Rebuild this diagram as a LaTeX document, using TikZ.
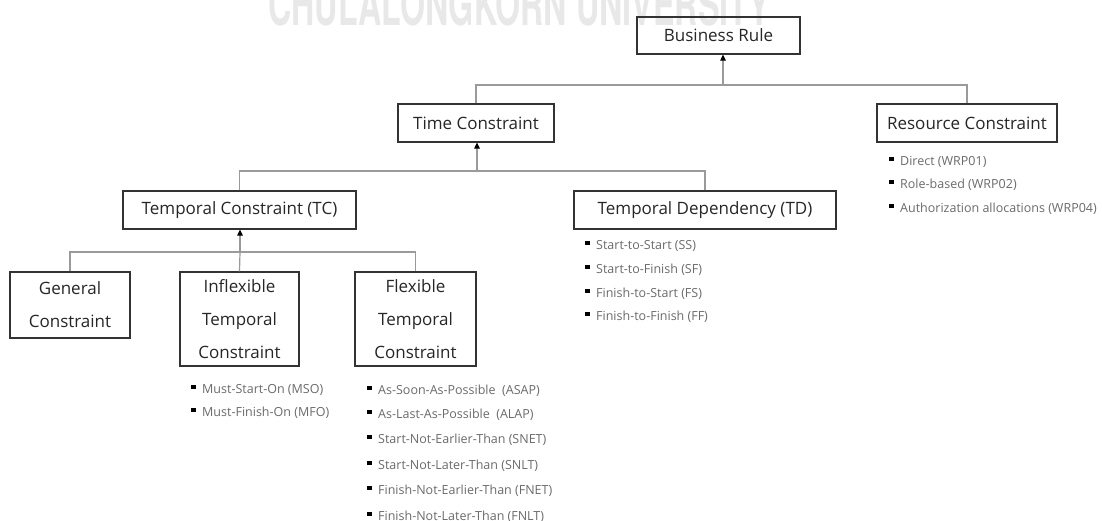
\documentclass[tikz,border=0pt]{standalone}
\usepackage{fontspec}
\setmainfont{Open Sans}
\newfontfamily\markfont{TeX Gyre Heros}
\usetikzlibrary{arrows.meta}

\definecolor{boxline}{HTML}{333333}
\definecolor{wire}{HTML}{9A9A9A}
\definecolor{itemtext}{HTML}{6A6A6A}
\definecolor{mark}{HTML}{E8E8E8}

\tikzset{
  x=1pt, y=-1pt,
  catbox/.style={draw=boxline, line width=1.2pt, inner sep=0pt,
    align=center, text=black!85, font=\fontsize{17}{33}\selectfont},
  wireline/.style={draw=wire, line width=1.2pt},
  uparrow/.style={wireline, -{Triangle[width=5.5pt,length=6pt,color=black,fill=black]}},
  item/.style={anchor=west, inner sep=0pt, text=itemtext, font=\fontsize{12.5}{14}\selectfont},
  dot/.style={fill=black, inner sep=0pt, minimum size=4.5pt, draw=none},
}

\newcommand{\listentry}[4]{% name, x, y, text
  \node[item] (#1) at (#2,#3) {#4};
  \node[dot] at ([xshift=-8.5pt,yshift=3pt]#1.west) {};
}

\begin{document}
\begin{tikzpicture}
\useasboundingbox (0,0) rectangle (1102,520);

% faint institutional banner along the top edge
\begin{scope}
  \clip (0,0) rectangle (1102,520);
  \node[anchor=south west, inner sep=0pt, text=mark] (banner) at (268,26)
    {\resizebox{502pt}{42pt}{\markfont\bfseries CHULALONGKORN UNIVERSITY}};
\end{scope}

% category boxes
\node[catbox, minimum width=163pt, minimum height=37pt] (br)     at (718.5,35.5) {Business Rule};
\node[catbox, minimum width=156pt, minimum height=38pt] (time)   at (476,123) {Time Constraint};
\node[catbox, minimum width=180pt, minimum height=38pt] (res)    at (967,123) {Resource Constraint};
\node[catbox, minimum width=233pt, minimum height=38pt] (tc)     at (239.5,210) {Temporal Constraint (TC)};
\node[catbox, minimum width=262pt, minimum height=38pt] (td)     at (705,210) {Temporal Dependency (TD)};
\node[catbox, minimum width=120pt, minimum height=66pt] (gen)    at (70,305) {General\\Constraint};
\node[catbox, minimum width=119pt, minimum height=94pt] (inflex) at (239.5,319) {Inflexible\\Temporal\\Constraint};
\node[catbox, minimum width=121pt, minimum height=94pt] (flex)   at (415.5,319) {Flexible\\Temporal\\Constraint};

% tree connectors
\coordinate (j1) at (723,85);
\coordinate (j2) at (477,171);
\coordinate (j3) at (240,252);

\draw[wireline] (time.north) |- (j1) -| (res.north);
\draw[uparrow] (j1) -- (j1 |- br.south);

\draw[wireline] (tc.north) |- (j2) -| (td.north);
\draw[uparrow] (j2) -- (j2 |- time.south);

\draw[wireline] (gen.north) |- (j3) -| (flex.north);
\draw[wireline] (inflex.north) -- (j3);
\draw[uparrow] (j3) -- (j3 |- tc.south);

% bullet lists
\listentry{mso}{202}{390}{Must-Start-On (MSO)}
\listentry{mfo}{202}{413}{Must-Finish-On (MFO)}

\listentry{asap}{378}{391}{As-Soon-As-Possible\ \ (ASAP)}
\listentry{alap}{378}{415}{As-Last-As-Possible\ \ (ALAP)}
\listentry{snet}{378}{440}{Start-Not-Earlier-Than (SNET)}
\listentry{snlt}{378}{466}{Start-Not-Later-Than (SNLT)}
\listentry{fnet}{378}{491}{Finish-Not-Earlier-Than (FNET)}
\listentry{fnlt}{378}{517}{Finish-Not-Later-Than (FNLT)}

\listentry{ss}{596}{246}{Start-to-Start (SS)}
\listentry{sf}{596}{270}{Start-to-Finish (SF)}
\listentry{fs}{596}{294}{Finish-to-Start (FS)}
\listentry{ff}{596}{317}{Finish-to-Finish (FF)}

\listentry{wrp1}{900}{162}{Direct (WRP01)}
\listentry{wrp2}{900}{185}{Role-based (WRP02)}
\listentry{wrp4}{900}{209}{Authorization allocations (WRP04)}
\end{tikzpicture}
\end{document}
